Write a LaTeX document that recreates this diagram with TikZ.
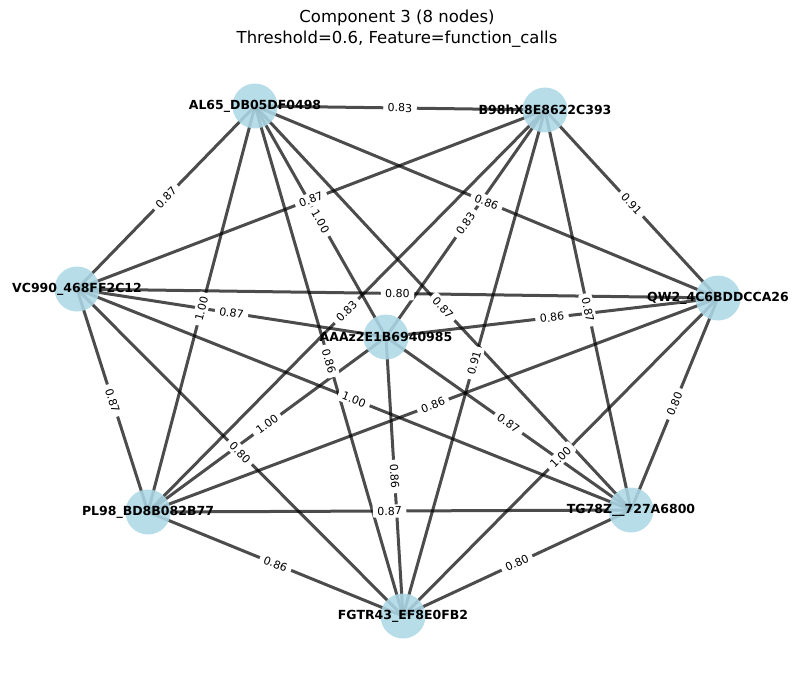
\documentclass[tikz,border=0pt]{standalone}
\usepackage{fontspec}
\setmainfont{DejaVu Sans}
\usetikzlibrary{positioning}
\definecolor{nodeblue}{RGB}{173,216,230}
\pgfdeclarelayer{edges}
\pgfsetlayers{edges,main}

\begin{document}
\begin{tikzpicture}[x=1pt, y=-1pt,
    vertex/.style={circle, fill=nodeblue, fill opacity=0.88, minimum size=45pt, inner sep=0pt},
    vname/.style={font=\fontsize{12.5}{14}\selectfont\bfseries},
    link/.style={line width=3pt, black, opacity=0.7},
    weight/.style={fill=white, inner xsep=4.5pt, inner ysep=2.5pt, rounded corners=2pt, sloped, midway,
      font=\fontsize{11}{12}\selectfont}]
  \useasboundingbox (0,0) rectangle (794,679);
  % title
  \node[align=center, font=\fontsize{16.5}{21}\selectfont] (title) at (397,29)
    {Component 3 (8 nodes)\\Threshold=0.6, Feature=function\_calls};
  % vertices
  \node[vertex, label={[vname]center:AL65\_DB05DF0498}] (al65) at (255,106) {};
  \node[vertex, label={[vname]center:B98hX8E8622C393}] (b98h) at (545,110) {};
  \node[vertex, label={[vname]center:VC990\_468FF2C12}] (vc990) at (77,289) {};
  \node[vertex, label={[vname]center:QW2\_4C6BDDCCA26}] (qw2) at (718,298) {};
  \node[vertex, label={[vname]center:AAAz2E1B6940985}] (aaa) at (386,337) {};
  \node[vertex, label={[vname]center:PL98\_BD8B082B77}] (pl98) at (148,512) {};
  \node[vertex, label={[vname]center:TG78Z\_\_727A6800}] (tg78) at (631,510) {};
  \node[vertex, label={[vname]center:FGTR43\_EF8E0FB2}] (fgtr) at (403,616) {};
  % edges and weights
  \def\edgelist{al65/b98h/0.83, al65/vc990/0.87, al65/aaa/1.00, al65/qw2/0.86,
    al65/tg78/0.87, al65/fgtr/0.86, al65/pl98/1.00, b98h/vc990/0.87,
    b98h/qw2/0.91, b98h/aaa/0.83, b98h/tg78/0.87, b98h/fgtr/0.91,
    b98h/pl98/0.83, vc990/qw2/0.80, vc990/aaa/0.87, vc990/tg78/1.00,
    vc990/pl98/0.87, vc990/fgtr/0.80, qw2/aaa/0.86, qw2/pl98/0.86,
    qw2/tg78/0.80, qw2/fgtr/1.00, aaa/pl98/1.00, aaa/tg78/0.87,
    aaa/fgtr/0.86, pl98/tg78/0.87, pl98/fgtr/0.86, tg78/fgtr/0.80}
  \begin{pgfonlayer}{edges}
    \foreach \a/\b/\w in \edgelist
      \draw[link] (\a.center) -- (\b.center);
  \end{pgfonlayer}
  \foreach \a/\b/\w in \edgelist
    \path (\a.center) -- (\b.center) node[weight] {\w};
\end{tikzpicture}
\end{document}
